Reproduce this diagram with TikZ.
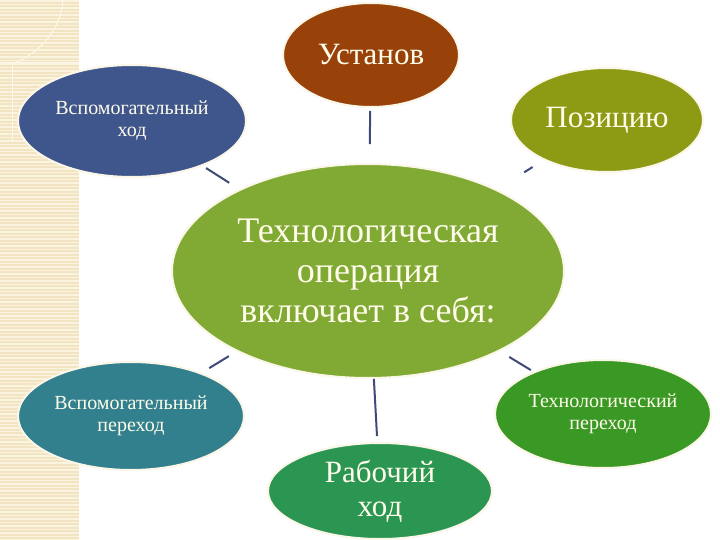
\documentclass[tikz,border=0pt]{standalone}
\usepackage{fontspec}
\setmainfont{Liberation Serif}
\usetikzlibrary{shapes.geometric}
\definecolor{stripe}{RGB}{242,228,192}
\definecolor{stripeline}{RGB}{250,243,224}
\definecolor{deco}{RGB}{252,248,235}
\definecolor{ring}{RGB}{250,246,232}
\definecolor{txt}{RGB}{255,252,235}
\definecolor{connc}{RGB}{62,74,120}
\definecolor{cUst}{RGB}{152,66,10}
\definecolor{cPoz}{RGB}{140,154,20}
\definecolor{cVh}{RGB}{62,86,140}
\definecolor{cCen}{RGB}{128,170,52}
\definecolor{cVp}{RGB}{50,128,142}
\definecolor{cRh}{RGB}{42,150,82}
\definecolor{cTp}{RGB}{58,152,36}
\tikzset{
  bubble/.style={ellipse, draw=ring, line width=2pt, text=txt, align=center, inner sep=0pt},
  conn/.style={draw=connc, line width=2pt},
  fbig/.style={font=\fontsize{31}{34}\selectfont},
  fsmall/.style={font=\fontsize{20}{22}\selectfont},
  fcen/.style={font=\fontsize{36}{40}\selectfont}
}
\begin{document}
\begin{tikzpicture}[x=1pt,y=-1pt]
\useasboundingbox (0,0) rectangle (720,540);
\fill[white] (0,0) rectangle (720,540);
\fill[stripe] (0,0) rectangle (79,540);
\foreach \yy in {1,4.5,...,540} \draw[stripeline, line width=1.1pt] (0,\yy) -- (79,\yy);
\draw[deco, line width=1pt] (63,0) .. controls (60,35) and (35,55) .. (12,64);
\draw[deco, line width=1pt] (0,63) -- (79,63);
\draw[deco, line width=1pt] (12,64) -- (12,140);

\node[bubble, fill=cUst, minimum width=176, minimum height=104, fbig] (ust) at (371,55) {Установ};
\node[bubble, fill=cPoz, minimum width=192, minimum height=104, fbig] (poz) at (607,120) {Позицию};
\node[bubble, fill=cVh, minimum width=228, minimum height=112, fsmall] (vh) at (132,121) {\raisebox{-2pt}{\begin{tabular}{@{}c@{}}Вспомогательный\\ход\end{tabular}}};
\node[bubble, fill=cCen, minimum width=392, minimum height=214, fcen] (cen) at (368,271) {Технологическая\\операция\\включает в себя:};
\node[bubble, fill=cVp, minimum width=226, minimum height=108, fsmall] (vp) at (131,416) {Вспомогательный\\переход};
\node[bubble, fill=cRh, minimum width=224, minimum height=96, fbig] (rh) at (380,491) {Рабочий\\ход};
\node[bubble, fill=cTp, minimum width=216, minimum height=108, fsmall] (tp) at (603,414) {Технологический\\переход};

\draw[conn, shorten <=3pt, shorten >=19pt] (ust) -- (cen);
\draw[conn, shorten <=13pt, shorten >=32pt] (poz) -- (cen);
\draw[conn, shorten <=4pt, shorten >=12pt] (vh) -- (cen);
\draw[conn, shorten <=9pt, shorten >=9pt] (vp) -- (cen);
\draw[conn, shorten <=6pt, shorten >=0pt] (rh) -- (cen);
\draw[conn, shorten <=3pt, shorten >=11pt] (tp) -- (cen);
\end{tikzpicture}
\end{document}
